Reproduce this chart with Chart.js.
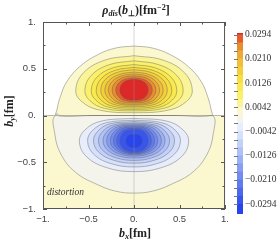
<!DOCTYPE html>
<html>
<head>
<meta charset="utf-8">
<script src="https://cdn.jsdelivr.net/npm/chart.js@4.4.1/dist/chart.umd.min.js"></script>
<style>
  body { margin: 0; background: #fff; width: 280px; height: 243px; overflow: hidden; position: relative; font-family: "Liberation Serif", serif; }
  canvas { position: absolute; }
  #main { left: 0; top: 0; }
  #bar { left: 232px; top: 0; }
  .lbl { position: absolute; white-space: nowrap; color: #222; line-height: 1; }
  .lbl sub, .lbl sup { font-size: 0.68em; line-height: 0; }
  .lbl sub { vertical-align: -0.25em; }
  .lbl sup { vertical-align: 0.55em; }
</style>
</head>
<body>
<canvas id="main" width="234" height="243"></canvas>
<canvas id="bar" width="48" height="243"></canvas>
<div class="lbl" style="left:136px;top:4px;font-size:12px;font-weight:bold;transform:translateX(-50%)"><i>ρ</i><sub><i>dis</i></sub>(<i>b</i><sub>⊥</sub>)[fm<sup>−2</sup>]</div>
<div class="lbl" style="left:135px;top:227px;font-size:12px;font-weight:bold;transform:translateX(-50%)"><i>b</i><sub><i>x</i></sub>[fm]</div>
<div class="lbl" style="left:9px;top:111px;font-size:12px;font-weight:bold;transform:translate(-50%,-50%) rotate(-90deg)"><i>b</i><sub><i>y</i></sub>[fm]</div>
<div class="lbl" style="left:47px;top:188px;font-size:9.5px;font-style:italic;color:#333">distortion</div>
<script>
// contour levels (fm^-2)
const upperLevels = [0.0014, 0.0042, 0.0070, 0.0098, 0.0126, 0.0154, 0.0182, 0.0210, 0.0238, 0.0266, 0.0294];
const lowerLevels = [-0.0014, -0.0042, -0.0070, -0.0098, -0.0126, -0.0154, -0.0182, -0.0210, -0.0238, -0.0266, -0.0294];

// right halves of the contours (x >= 0); mirrored in x
const upperArc = [[0, 0.743], [0.2, 0.722], [0.4, 0.65], [0.6, 0.52], [0.74, 0.36], [0.81, 0.2], [0.845, 0.07], [0.85, 0], [0.45, 0], [0, 0]];
const lowerArc = [[0, 0], [0.45, 0], [0.86, 0], [0.87, -0.2], [0.80, -0.42], [0.64, -0.61], [0.40, -0.74], [0.2, -0.81], [0, -0.83]];
const zeroLine = [[-1, 0], [-0.87, 0], [-0.845, 0.02], [-0.82, 0], [1, 0]];

const upperLobe = [
  [[0, 0.64], [0.32, 0.592], [0.557, 0.455], [0.64, 0.27], [0.576, 0.15], [0.384, 0.059], [0, 0.03]],
  [[0, 0.585], [0.27, 0.544], [0.47, 0.428], [0.54, 0.27], [0.486, 0.16], [0.324, 0.076], [0, 0.05]],
  [[0, 0.545], [0.235, 0.509], [0.409, 0.408], [0.47, 0.27], [0.423, 0.168], [0.282, 0.09], [0, 0.065]],
  [[0, 0.515], [0.208, 0.483], [0.361, 0.393], [0.415, 0.27], [0.374, 0.175], [0.249, 0.103], [0, 0.08]],
  [[0, 0.49], [0.183, 0.462], [0.318, 0.383], [0.365, 0.275], [0.329, 0.185], [0.219, 0.117], [0, 0.095]],
  [[0, 0.465], [0.16, 0.44], [0.278, 0.37], [0.32, 0.275], [0.288, 0.193], [0.192, 0.13], [0, 0.11]],
  [[0, 0.445], [0.14, 0.423], [0.244, 0.36], [0.28, 0.275], [0.252, 0.198], [0.168, 0.139], [0, 0.12]],
  [[0, 0.425], [0.12, 0.406], [0.209, 0.35], [0.24, 0.275], [0.216, 0.205], [0.144, 0.152], [0, 0.135]],
  [[0, 0.405], [0.10, 0.388], [0.174, 0.34], [0.20, 0.275], [0.18, 0.213], [0.12, 0.165], [0, 0.15]],
  [[0, 0.387], [0.078, 0.373], [0.135, 0.332], [0.155, 0.276], [0.14, 0.221], [0.093, 0.179], [0, 0.166]]
];

const lowerLobe = [
  [[0, -0.03], [0.36, -0.06], [0.54, -0.155], [0.60, -0.28], [0.522, -0.44], [0.30, -0.558], [0, -0.60]],
  [[0, -0.05], [0.306, -0.077], [0.459, -0.163], [0.51, -0.275], [0.444, -0.413], [0.255, -0.514], [0, -0.55]],
  [[0, -0.065], [0.267, -0.09], [0.40, -0.17], [0.445, -0.275], [0.387, -0.393], [0.223, -0.479], [0, -0.51]],
  [[0, -0.08], [0.234, -0.103], [0.351, -0.178], [0.39, -0.275], [0.339, -0.378], [0.195, -0.453], [0, -0.48]],
  [[0, -0.09], [0.204, -0.112], [0.306, -0.183], [0.34, -0.275], [0.296, -0.365], [0.17, -0.432], [0, -0.455]],
  [[0, -0.10], [0.18, -0.121], [0.27, -0.188], [0.30, -0.275], [0.261, -0.355], [0.15, -0.414], [0, -0.435]],
  [[0, -0.11], [0.156, -0.13], [0.234, -0.193], [0.26, -0.275], [0.226, -0.348], [0.13, -0.401], [0, -0.42]],
  [[0, -0.12], [0.135, -0.139], [0.203, -0.198], [0.225, -0.275], [0.196, -0.343], [0.113, -0.392], [0, -0.41]],
  [[0, -0.135], [0.114, -0.152], [0.171, -0.205], [0.19, -0.275], [0.165, -0.338], [0.095, -0.384], [0, -0.40]],
  [[0, -0.15], [0.093, -0.165], [0.14, -0.213], [0.155, -0.275], [0.135, -0.333], [0.078, -0.375], [0, -0.39]],
  [[0, -0.20], [0.054, -0.209], [0.081, -0.238], [0.09, -0.275], [0.078, -0.31], [0.045, -0.336], [0, -0.345]]
];

// axis ticks
const majorTicks = [-1, -0.5, 0, 0.5, 1];
const minorTicks = [-0.75, -0.25, 0.25, 0.75];

// colour bar
const barMin = -0.0328;
const barMax = 0.0300;
const barLabels = [0.0294, 0.0210, 0.0126, 0.0042, -0.0042, -0.0126, -0.0210, -0.0294];

// colours of each band (nearest zero -> outermost value)
const zeroColor = 'rgb(244,244,236)';
const posColors = ['rgb(251,248,208)', 'rgb(250,244,150)', 'rgb(250,240,105)', 'rgb(249,233,78)', 'rgb(247,222,66)',
  'rgb(244,207,60)', 'rgb(241,190,56)', 'rgb(237,170,52)', 'rgb(232,142,48)', 'rgb(226,92,44)', 'rgb(221,40,40)'];
const negColors = ['rgb(232,237,251)', 'rgb(214,224,250)', 'rgb(195,209,249)', 'rgb(176,193,247)', 'rgb(156,176,245)',
  'rgb(136,158,243)', 'rgb(116,140,241)', 'rgb(96,122,239)', 'rgb(76,104,238)', 'rgb(56,86,237)', 'rgb(40,68,236)'];
const lineColor = 'rgba(90,90,90,0.6)';

function closeHalf(half) {
  const left = half.slice(0, -1).reverse().map(([x, y]) => [-x, y]);
  return half.concat(left).map(([x, y]) => ({ x, y }));
}

const layers = [];
layers.push({ label: 'lower background', data: [{x: -1, y: 0}, {x: 1, y: 0}, {x: 1, y: -1}, {x: -1, y: -1}],
  backgroundColor: posColors[0], borderWidth: 0, tension: 0 });
layers.push({ label: String(upperLevels[0]), data: closeHalf(lowerArc), backgroundColor: zeroColor });
layers.push({ label: String(upperLevels[0]), data: closeHalf(upperArc), backgroundColor: posColors[0] });
upperLobe.forEach((half, i) => {
  layers.push({ label: String(upperLevels[i + 1]), data: closeHalf(half), backgroundColor: posColors[i + 1] });
});
lowerLobe.forEach((half, i) => {
  layers.push({ label: String(lowerLevels[i]), data: closeHalf(half), backgroundColor: negColors[i] });
});
layers.push({ label: 'x=0', data: [{x: 0, y: -1}, {x: 0, y: 1}], fill: false, borderColor: 'rgba(150,150,150,0.55)', tension: 0 });
layers.push({ label: 'zero', data: zeroLine.map(([x, y]) => ({x, y})), fill: false, tension: 0 });

const datasets = layers.map((d, i) => Object.assign({
  showLine: true,
  fill: 'shape',
  tension: 0.4,
  borderColor: lineColor,
  borderWidth: 0.7,
  pointRadius: 0,
  pointHoverRadius: 0,
  order: layers.length - i
}, d));

const fmt = v => (Number.isInteger(v) ? v + '.' : String(v)).replace('-', '−');

const frame = {
  id: 'frame',
  afterDatasetsDraw(chart) {
    const { ctx, chartArea: a, scales: { x, y } } = chart;
    ctx.save();
    ctx.strokeStyle = '#555';
    ctx.lineWidth = 1;
    ctx.strokeRect(a.left + 0.5, a.top + 0.5, a.right - a.left - 1, a.bottom - a.top - 1);
    const tick = (v, len) => {
      const px = Math.round(x.getPixelForValue(v)) + 0.5;
      const py = Math.round(y.getPixelForValue(v)) + 0.5;
      ctx.beginPath();
      ctx.moveTo(px, a.top); ctx.lineTo(px, a.top + len);
      ctx.moveTo(px, a.bottom); ctx.lineTo(px, a.bottom - len);
      ctx.moveTo(a.left, py); ctx.lineTo(a.left + len, py);
      ctx.moveTo(a.right, py); ctx.lineTo(a.right - len, py);
      ctx.stroke();
    };
    majorTicks.forEach(v => tick(v, 4));
    minorTicks.forEach(v => tick(v, 2.5));
    ctx.restore();
  }
};

new Chart(document.getElementById('main'), {
  type: 'scatter',
  data: { datasets },
  options: {
    responsive: false,
    animation: false,
    events: [],
    layout: { padding: { top: 22, right: 5, left: 0, bottom: 0 } },
    plugins: { legend: { display: false }, tooltip: { enabled: false } },
    scales: {
      x: {
        type: 'linear', min: -1, max: 1,
        grid: { display: false, drawTicks: false },
        border: { display: false },
        ticks: { stepSize: 0.5, callback: fmt, padding: 5, color: '#444', font: { family: 'Liberation Sans', size: 9.5 } },
        afterFit: s => { s.height = 34; }
      },
      y: {
        type: 'linear', min: -1, max: 1,
        grid: { display: false, drawTicks: false },
        border: { display: false },
        ticks: { stepSize: 0.5, callback: fmt, padding: 7, color: '#444', font: { family: 'Liberation Sans', size: 9.5 } },
        afterFit: s => { s.width = 43; }
      }
    }
  },
  plugins: [frame]
});

// colour bar: one floating bar per band between neighbouring levels
const bandEdges = [barMin].concat(lowerLevels.slice().reverse(), upperLevels, [barMax]);
const bandColors = negColors.slice().reverse().concat([zeroColor], posColors);
const barSets = bandColors.map((c, i) => ({
  data: [[bandEdges[i], bandEdges[i + 1]]],
  backgroundColor: c,
  borderWidth: 0,
  barPercentage: 1,
  categoryPercentage: 1,
  grouped: false
}));

const barTicks = {
  id: 'barTicks',
  afterDatasetsDraw(chart) {
    const { ctx, chartArea: a, scales: { y } } = chart;
    ctx.save();
    ctx.strokeStyle = '#777';
    ctx.lineWidth = 1;
    upperLevels.concat(lowerLevels).forEach(v => {
      const py = Math.round(y.getPixelForValue(v)) + 0.5;
      ctx.beginPath();
      ctx.moveTo(a.left - 3, py); ctx.lineTo(a.left + 1, py);
      ctx.stroke();
    });
    ctx.restore();
  }
};

new Chart(document.getElementById('bar'), {
  type: 'bar',
  data: { labels: [''], datasets: barSets },
  options: {
    responsive: false,
    animation: false,
    events: [],
    layout: { padding: { top: 33, bottom: 29, left: 5, right: 0 } },
    plugins: { legend: { display: false }, tooltip: { enabled: false } },
    scales: {
      x: { display: false },
      y: {
        position: 'right', min: barMin, max: barMax,
        grid: { display: false, drawTicks: false },
        border: { display: false },
        afterBuildTicks: s => { s.ticks = barLabels.map(v => ({ value: v })); },
        ticks: { padding: 2, color: '#333', callback: v => v.toFixed(4).replace('-', '−'),
          font: { family: 'Liberation Serif', size: 9.5 } },
        afterFit: s => { s.width = 37; }
      }
    }
  },
  plugins: [barTicks]
});
</script>
</body>
</html>
